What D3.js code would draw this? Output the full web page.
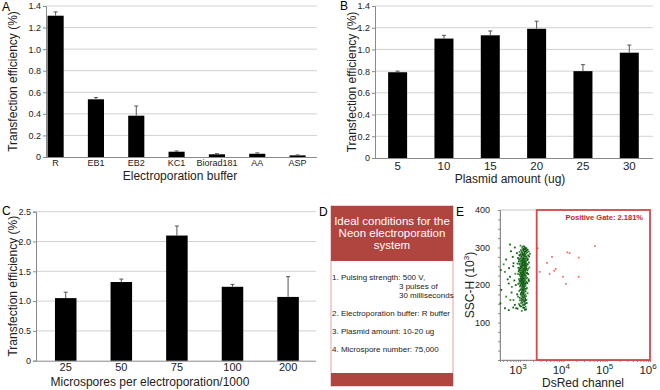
<!DOCTYPE html>
<html>
<head>
<meta charset="utf-8">
<script src="https://cdn.jsdelivr.net/npm/d3@7"></script>
<style>
  body { margin: 0; background: #fff; }
  svg { font-family: 'Liberation Sans', Arial, sans-serif; }
</style>
</head>
<body>
<svg id="fig" width="660" height="390"></svg>
<script>
// Panel A: electroporation buffer
const bufferNames = ['R', 'EB1', 'EB2', 'KC1', 'Biorad181', 'AA', 'ASP'];
const bufferMeans = [1.31, 0.535, 0.383, 0.049, 0.025, 0.03, 0.015];
const bufferErrors = [0.035, 0.017, 0.09, 0.007, 0.006, 0.008, 0.004];
const bufferTicks = [0, 0.2, 0.4, 0.6, 0.8, 1.0, 1.2, 1.4];

// Panel B: plasmid amount
const plasmidNames = ['5', '10', '15', '20', '25', '30'];
const plasmidMeans = [0.79, 1.10, 1.13, 1.19, 0.80, 0.97];
const plasmidErrors = [0.01, 0.03, 0.04, 0.07, 0.06, 0.07];
const plasmidTicks = [0, 0.2, 0.4, 0.6, 0.8, 1.0, 1.2, 1.4];

// Panel C: microspores per electroporation
const sporeNames = ['25', '50', '75', '100', '200'];
const sporeMeans = [1.05, 1.32, 2.10, 1.24, 1.07];
const sporeErrors = [0.10, 0.05, 0.16, 0.04, 0.34];
const sporeTicks = [0, 0.5, 1.0, 1.5, 2.0, 2.5];

// Panel D: text box
const boxTitle = ['Ideal conditions for the', 'Neon electroporation', 'system'];
const boxLines = [
    ['1. Pulsing strength: 500 V,', 0],
    ['3 pulses of', 1],
    ['30 milliseconds', 1],
    ['2. Electroporation buffer: R buffer', 0],
    ['3. Plasmid amount: 10-20 ug', 0],
    ['4. Microspore number: 75,000', 0]
];

// Panel E: flow cytometry (DsRed, SSC-H x1000)
const negativeEvents = [
    [1150,302],[1300,300],[1250,296],[1400,298],[1050,293],[1200,291],[1350,290],[1500,294],[980,288],[1120,286],
    [1280,285],[1450,287],[1600,289],[1050,282],[1180,280],[1330,281],[1000,278],[1250,277],[1400,276],[1550,279],
    [1100,274],[900,272],[1200,272],[1350,271],[1700,283],[1480,270],[950,268],[1060,266],[1150,265],[1240,267],
    [1320,264],[1450,266],[1020,262],[1110,260],[1200,261],[1290,259],[1380,262],[1600,260],[880,257],[980,256],
    [1080,255],[1170,254],[1260,256],[1350,253],[1520,255],[1040,250],[1130,249],[1220,250],[1310,248],[1420,251],
    [920,246],[1010,245],[1100,244],[1190,243],[1280,245],[1370,242],[1650,247],[960,240],[1060,239],[1150,238],
    [1240,240],[1330,237],[1480,239],[1020,234],[1110,233],[1200,232],[1290,234],[1400,231],[900,229],[990,228],
    [1080,227],[1170,226],[1260,228],[1360,225],[1550,229],[1040,222],[1130,221],[1220,220],[1310,222],[1440,219],
    [950,216],[1070,215],[1160,214],[1250,213],[1340,216],[1010,209],[1100,208],[1190,207],[1280,209],[1380,206],
    [1600,211],[920,203],[1050,202],[1140,201],[1230,200],[1320,203],[1000,196],[1120,195],[1210,193],[1300,197],
    [1450,192],[1070,189],[1170,187],[1260,188],[960,184],[1100,181],[1230,180],[1350,183],[1500,178],[1040,175],
    [1150,173],[1280,172],[900,169],[1190,166],[1080,163],[1320,165],[1000,159],[1230,157],[1400,160],[1130,153],
    [950,149],[1260,147],[1050,143],[1180,140],[1350,142],[880,137],[1300,134],[1380,135],[1100,131],[1210,296],
    [1090,258],[1170,246],[1250,236],[1130,224],[1210,218],[1060,212],[1290,190],[1170,178],[1240,262],[1140,270],
    [1120,299],[1230,303],[1360,297],[1180,294],[1080,290],[1420,292],[1270,288],[1160,283],[1370,284],[1210,279],
    [1090,277],[1300,276],[1430,273],[1170,269],[1260,270],[1020,271],[1390,268],[1100,264],[1190,263],[1280,262],
    [1070,260],[1340,258],[1150,257],[1230,253],[1020,253],[1420,256],[1110,252],[1300,251],[1190,248],[1060,247],
    [1360,246],[1250,243],[1140,242],[990,242],[1420,244],[1210,239],[1100,236],[1300,240],[1180,235],[1050,231],
    [1350,233],[1240,230],[1140,229],[1460,232],[1010,225],[1200,224],[1290,226],[1100,223],[1380,221],[1160,218],
    [1250,217],[1050,218],[1330,212],[1130,211],[1220,210],[980,212],[1420,209],[1170,205],[1260,204],[1080,205],
    [1350,199],[1150,198],[1030,199],[1240,195],[1100,192],[1370,190],[1190,190],[1020,187],[1280,185],[1130,184],
    [1210,176],[1060,178],[1330,175],[1140,168],[1250,169],[990,166],[1380,170],[1100,158],[1170,161],[1290,155],
    [1060,152],[1200,148],[1320,150],[990,145],[1140,146],[1250,139],[1430,152],[1480,205],[1550,243],[1520,268],
    [1630,276],[1580,215],[960,205],[930,236],[940,263],[970,280],[1030,305],[1240,281],[1320,294],[1160,233],
    [1270,222],[1090,216],[1200,185],[1310,160],[1080,171],
    [590,308],[480,268],[360,240],[450,235],[590,222],[550,204],[370,187],[480,169],[355,151],[450,138],
    [550,133],[710,160],[760,147],[850,285],[710,258],[650,195],[820,138],[620,290],[700,250],[780,230],
    [520,215],[640,180],[800,200],[420,255],[560,245],[680,275],[740,212],[600,160],[860,175],[700,140],[760,300]
];
const positiveEvents = [
    [53800,304],[12400,287],[14000,285],[22600,273],[5470,275],[4200,259],[6670,243],[6190,238],
    [2850,235],[4840,229],[9820,222],[22600,222],[11500,203],[2560,298]
];
const dsredTicks = [1e3, 1e4, 1e5, 1e6];
const sscTicks = [100, 200, 300, 400];
const gateStart = 2430;

const svg = d3.select('#fig');
const font = "'Liberation Sans', Arial, sans-serif";

function styleAxis(axisG, size) {
    axisG.attr('font-family', font).attr('font-size', size);
    axisG.select('.domain').attr('stroke', '#8a8a8a');
    axisG.selectAll('.tick line').attr('stroke', '#8a8a8a');
    axisG.selectAll('.tick text').attr('fill', '#222');
}

function drawBarPanel(o) {
    const g = svg.append('g');
    const x = d3.scaleBand().domain(o.names).range([o.left, o.right])
        .paddingInner(o.padIn).paddingOuter(o.padOut).align(o.align);
    const y = d3.scaleLinear().domain([0, d3.max(o.ticks)]).range([o.bottom, o.top]);

    // Gridlines
    g.selectAll('line.grid')
        .data(o.ticks.filter(d => d > 0))
        .join('line')
        .attr('class', 'grid')
        .attr('x1', o.left).attr('x2', o.right)
        .attr('y1', d => y(d)).attr('y2', d => y(d))
        .attr('stroke', '#d2d2d2');

    // Y-axis
    const yAxis = g.append('g')
        .attr('transform', `translate(${o.left},0)`)
        .call(d3.axisLeft(y).tickValues(o.ticks).tickSize(3).tickPadding(2)
            .tickFormat(d => d === 0 ? '0' : d3.format('.1f')(d)));
    styleAxis(yAxis, 9);

    // X-axis
    const xAxis = g.append('g')
        .attr('transform', `translate(0,${o.bottom})`)
        .call(d3.axisBottom(x).tickSize(0).tickPadding(o.xPad).tickSizeOuter(0));
    styleAxis(xAxis, o.xFont);
    xAxis.select('.domain').attr('d', `M${o.left},0.5H${o.right}`);

    // Bars
    g.selectAll('rect.bar')
        .data(o.names)
        .join('rect')
        .attr('class', 'bar')
        .attr('x', d => x(d))
        .attr('width', x.bandwidth())
        .attr('y', (d, i) => y(o.means[i]))
        .attr('height', (d, i) => o.bottom - y(o.means[i]))
        .attr('fill', '#000');

    // Error bars (upper only)
    const err = g.selectAll('g.err')
        .data(o.names)
        .join('g')
        .attr('class', 'err')
        .attr('stroke', '#555')
        .attr('stroke-width', 1);
    err.append('line')
        .attr('x1', d => x(d) + x.bandwidth() / 2)
        .attr('x2', d => x(d) + x.bandwidth() / 2)
        .attr('y1', (d, i) => y(o.means[i]))
        .attr('y2', (d, i) => y(o.means[i] + o.errors[i]));
    err.append('line')
        .attr('x1', d => x(d) + x.bandwidth() / 2 - 2)
        .attr('x2', d => x(d) + x.bandwidth() / 2 + 2)
        .attr('y1', (d, i) => y(o.means[i] + o.errors[i]))
        .attr('y2', (d, i) => y(o.means[i] + o.errors[i]));

    // Titles
    g.append('text')
        .attr('transform', `translate(${o.yTitleX},${(o.top + o.bottom) / 2}) rotate(-90)`)
        .attr('text-anchor', 'middle')
        .attr('dominant-baseline', 'central')
        .attr('font-size', 12)
        .attr('fill', '#222')
        .text('Transfection efficiency (%)');
    g.append('text')
        .attr('x', o.xTitleX)
        .attr('y', o.xTitleY)
        .attr('text-anchor', 'middle')
        .attr('font-size', 12)
        .attr('fill', '#222')
        .text(o.xTitle);
    g.append('text')
        .attr('x', o.labelX).attr('y', o.labelY)
        .attr('font-size', 12)
        .text(o.label);
}

drawBarPanel({
    names: bufferNames, means: bufferMeans, errors: bufferErrors, ticks: bufferTicks,
    left: 46, right: 317, top: 6, bottom: 157,
    padIn: 0.6, padOut: 0.16, align: 0.12,
    xFont: 9, xPad: 3, xTitle: 'Electroporation buffer', xTitleX: 180, xTitleY: 180,
    yTitleX: 13, label: 'A', labelX: 2, labelY: 11
});

drawBarPanel({
    names: plasmidNames, means: plasmidMeans, errors: plasmidErrors, ticks: plasmidTicks,
    left: 375, right: 653, top: 6, bottom: 158,
    padIn: 0.59, padOut: 0.295, align: 0.48,
    xFont: 11.5, xPad: 4, xTitle: 'Plasmid amount (ug)', xTitleX: 510, xTitleY: 183,
    yTitleX: 352, label: 'B', labelX: 340, labelY: 10
});

drawBarPanel({
    names: sporeNames, means: sporeMeans, errors: sporeErrors, ticks: sporeTicks,
    left: 36, right: 316, top: 211.7, bottom: 360.7,
    padIn: 0.613, padOut: 0.325, align: 0.525,
    xFont: 11, xPad: 2.5, xTitle: 'Microspores per electroporation/1000', xTitleX: 150, xTitleY: 385.5,
    yTitleX: 13, label: 'C', labelX: 2, labelY: 215
});

// Panel D
const dg = svg.append('g');
dg.append('text').attr('x', 319).attr('y', 216).attr('font-size', 12).text('D');
dg.append('rect')
    .attr('x', 331).attr('y', 206).attr('width', 122).attr('height', 180)
    .attr('fill', '#fff').attr('stroke', '#e0a6a3').attr('stroke-width', 1);
dg.append('rect')
    .attr('x', 331).attr('y', 206).attr('width', 122).attr('height', 55)
    .attr('fill', '#b0443f');
dg.append('rect')
    .attr('x', 331).attr('y', 373).attr('width', 122).attr('height', 13)
    .attr('fill', '#b0443f');
dg.selectAll('text.head')
    .data(boxTitle)
    .join('text')
    .attr('class', 'head')
    .attr('x', 392)
    .attr('y', (d, i) => 225 + i * 12)
    .attr('text-anchor', 'middle')
    .attr('font-size', 11.5)
    .attr('fill', '#fff')
    .text(d => d);
const lineY = [280, 289, 298, 316, 334, 351.5];
dg.selectAll('text.body')
    .data(boxLines)
    .join('text')
    .attr('class', 'body')
    .attr('x', d => d[1] ? 399 : 332)
    .attr('y', (d, i) => lineY[i])
    .attr('font-size', 8)
    .attr('fill', '#222')
    .text(d => d[0]);

// Panel E
const eg = svg.append('g');
const ex = d3.scaleLog().domain([346, 1e6]).range([500, 650]);
const ey = d3.scaleLinear().domain([0, 400]).range([360, 210]);

eg.append('rect')
    .attr('x', 500).attr('y', 210).attr('width', 150).attr('height', 150)
    .attr('fill', 'none').attr('stroke', '#c8c8c8');

const eyAxis = eg.append('g')
    .attr('transform', 'translate(500,0)')
    .call(d3.axisLeft(ey).tickValues(d3.range(25, 401, 25)).tickSize(2).tickPadding(8)
        .tickFormat(d => sscTicks.includes(d) ? d : ''));
styleAxis(eyAxis, 9);

const exAxis = eg.append('g')
    .attr('transform', 'translate(0,360)')
    .call(d3.axisBottom(ex).tickValues(ex.ticks()).tickSize(2).tickFormat(''));
styleAxis(exAxis, 11);

eg.selectAll('text.dec')
    .data(dsredTicks)
    .join('text')
    .attr('class', 'dec')
    .attr('x', d => ex(d) - 2)
    .attr('y', 374)
    .attr('text-anchor', 'middle')
    .attr('font-size', 11.5)
    .attr('fill', '#222')
    .each(function (d) {
        const t = d3.select(this);
        t.append('tspan').text('10');
        t.append('tspan').attr('dy', -5).attr('font-size', 8).text(Math.round(Math.log10(d)));
    });

eg.selectAll('rect.neg')
    .data(negativeEvents)
    .join('rect')
    .attr('class', 'neg')
    .attr('x', d => ex(d[0]) - 0.9)
    .attr('y', d => ey(d[1]) - 0.9)
    .attr('width', 1.8).attr('height', 1.8)
    .attr('fill', (d, i) => i % 4 === 0 ? '#3f8a3f' : '#16601a');

eg.selectAll('rect.pos')
    .data(positiveEvents)
    .join('rect')
    .attr('class', 'pos')
    .attr('x', d => ex(d[0]) - 0.8)
    .attr('y', d => ey(d[1]) - 0.8)
    .attr('width', 1.6).attr('height', 1.6)
    .attr('fill', '#ee5555');

// Positive gate
eg.append('rect')
    .attr('x', ex(gateStart)).attr('y', ey(400))
    .attr('width', ex(1e6) - ex(gateStart)).attr('height', ey(0) - ey(400))
    .attr('fill', 'none').attr('stroke', '#d9474a').attr('stroke-width', 1.8);
eg.append('text')
    .attr('x', 643).attr('y', 220)
    .attr('text-anchor', 'end')
    .attr('font-size', 7.5)
    .attr('font-weight', 'bold')
    .attr('fill', '#d0202a')
    .text('Positive Gate: 2.181%');

const ssc = eg.append('text')
    .attr('transform', 'translate(474,285) rotate(-90)')
    .attr('text-anchor', 'middle')
    .attr('font-size', 12)
    .attr('fill', '#222');
ssc.append('tspan').text('SSC-H (10');
ssc.append('tspan').attr('dy', -5).attr('font-size', 8).text('3');
ssc.append('tspan').attr('dy', 5).text(')');

eg.append('text')
    .attr('x', 583).attr('y', 387)
    .attr('text-anchor', 'middle')
    .attr('font-size', 12)
    .attr('fill', '#222')
    .text('DsRed channel');
eg.append('text').attr('x', 456).attr('y', 216).attr('font-size', 12).text('E');
</script>
</body>
</html>
